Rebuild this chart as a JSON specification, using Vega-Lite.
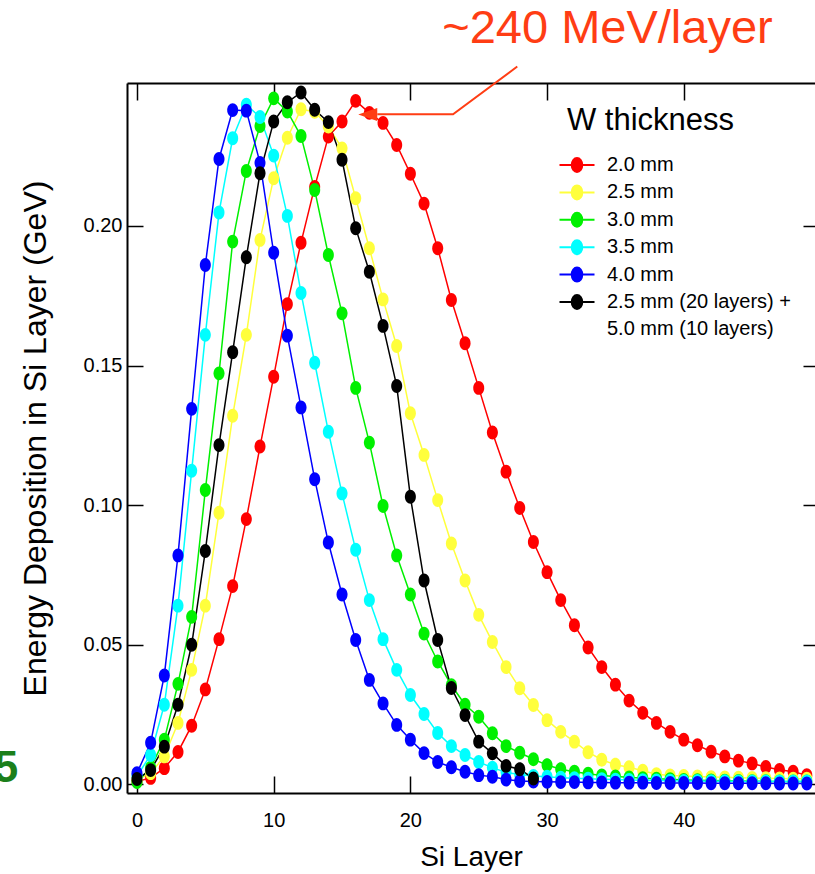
{
"$schema": "https://vega.github.io/schema/vega-lite/v6.json",
"autosize": {"type": "none"},
"padding": {"left": 127, "top": 83, "right": 0, "bottom": 81},
"width": 688,
"height": 710,
"background": "white",
"config": {"font": "Liberation Sans", "view": {"stroke": null}},
"datasets": {
"curves": [
{"s":"2.0 mm","x":0,"y":0.0010},{"s":"2.0 mm","x":1,"y":0.0023},{"s":"2.0 mm","x":2,"y":0.0058},{"s":"2.0 mm","x":3,"y":0.0116},{"s":"2.0 mm","x":4,"y":0.0210},{"s":"2.0 mm","x":5,"y":0.0340},{"s":"2.0 mm","x":6,"y":0.0520},{"s":"2.0 mm","x":7,"y":0.0710},{"s":"2.0 mm","x":8,"y":0.0950},{"s":"2.0 mm","x":9,"y":0.1210},
{"s":"2.0 mm","x":10,"y":0.1460},{"s":"2.0 mm","x":11,"y":0.1720},{"s":"2.0 mm","x":12,"y":0.1940},{"s":"2.0 mm","x":13,"y":0.2140},{"s":"2.0 mm","x":14,"y":0.2320},{"s":"2.0 mm","x":15,"y":0.2374},{"s":"2.0 mm","x":16,"y":0.2448},{"s":"2.0 mm","x":17,"y":0.2405},{"s":"2.0 mm","x":18,"y":0.2369},{"s":"2.0 mm","x":19,"y":0.2290},
{"s":"2.0 mm","x":20,"y":0.2187},{"s":"2.0 mm","x":21,"y":0.2080},{"s":"2.0 mm","x":22,"y":0.1920},{"s":"2.0 mm","x":23,"y":0.1735},{"s":"2.0 mm","x":24,"y":0.1580},{"s":"2.0 mm","x":25,"y":0.1420},{"s":"2.0 mm","x":26,"y":0.1260},{"s":"2.0 mm","x":27,"y":0.1120},{"s":"2.0 mm","x":28,"y":0.0990},{"s":"2.0 mm","x":29,"y":0.0868},
{"s":"2.0 mm","x":30,"y":0.0760},{"s":"2.0 mm","x":31,"y":0.0660},{"s":"2.0 mm","x":32,"y":0.0570},{"s":"2.0 mm","x":33,"y":0.0490},{"s":"2.0 mm","x":34,"y":0.0420},{"s":"2.0 mm","x":35,"y":0.0357},{"s":"2.0 mm","x":36,"y":0.0300},{"s":"2.0 mm","x":37,"y":0.0256},{"s":"2.0 mm","x":38,"y":0.0220},{"s":"2.0 mm","x":39,"y":0.0188},
{"s":"2.0 mm","x":40,"y":0.0160},{"s":"2.0 mm","x":41,"y":0.0140},{"s":"2.0 mm","x":42,"y":0.0117},{"s":"2.0 mm","x":43,"y":0.0100},{"s":"2.0 mm","x":44,"y":0.0085},{"s":"2.0 mm","x":45,"y":0.0075},{"s":"2.0 mm","x":46,"y":0.0062},{"s":"2.0 mm","x":47,"y":0.0052},{"s":"2.0 mm","x":48,"y":0.0045},{"s":"2.0 mm","x":49,"y":0.0033},
{"s":"2.5 mm","x":0,"y":0.0015},{"s":"2.5 mm","x":1,"y":0.0040},{"s":"2.5 mm","x":2,"y":0.0100},{"s":"2.5 mm","x":3,"y":0.0220},{"s":"2.5 mm","x":4,"y":0.0410},{"s":"2.5 mm","x":5,"y":0.0640},{"s":"2.5 mm","x":6,"y":0.0973},{"s":"2.5 mm","x":7,"y":0.1320},{"s":"2.5 mm","x":8,"y":0.1610},{"s":"2.5 mm","x":9,"y":0.1950},
{"s":"2.5 mm","x":10,"y":0.2171},{"s":"2.5 mm","x":11,"y":0.2316},{"s":"2.5 mm","x":12,"y":0.2418},{"s":"2.5 mm","x":13,"y":0.2409},{"s":"2.5 mm","x":14,"y":0.2356},{"s":"2.5 mm","x":15,"y":0.2278},{"s":"2.5 mm","x":16,"y":0.2099},{"s":"2.5 mm","x":17,"y":0.1920},{"s":"2.5 mm","x":18,"y":0.1737},{"s":"2.5 mm","x":19,"y":0.1570},
{"s":"2.5 mm","x":20,"y":0.1329},{"s":"2.5 mm","x":21,"y":0.1180},{"s":"2.5 mm","x":22,"y":0.1018},{"s":"2.5 mm","x":23,"y":0.0863},{"s":"2.5 mm","x":24,"y":0.0730},{"s":"2.5 mm","x":25,"y":0.0607},{"s":"2.5 mm","x":26,"y":0.0510},{"s":"2.5 mm","x":27,"y":0.0420},{"s":"2.5 mm","x":28,"y":0.0344},{"s":"2.5 mm","x":29,"y":0.0284},
{"s":"2.5 mm","x":30,"y":0.0230},{"s":"2.5 mm","x":31,"y":0.0188},{"s":"2.5 mm","x":32,"y":0.0153},{"s":"2.5 mm","x":33,"y":0.0115},{"s":"2.5 mm","x":34,"y":0.0088},{"s":"2.5 mm","x":35,"y":0.0070},{"s":"2.5 mm","x":36,"y":0.0061},{"s":"2.5 mm","x":37,"y":0.0049},{"s":"2.5 mm","x":38,"y":0.0036},{"s":"2.5 mm","x":39,"y":0.0032},
{"s":"2.5 mm","x":40,"y":0.0030},{"s":"2.5 mm","x":41,"y":0.0028},{"s":"2.5 mm","x":42,"y":0.0026},{"s":"2.5 mm","x":43,"y":0.0025},{"s":"2.5 mm","x":44,"y":0.0024},{"s":"2.5 mm","x":45,"y":0.0023},{"s":"2.5 mm","x":46,"y":0.0022},{"s":"2.5 mm","x":47,"y":0.0021},{"s":"2.5 mm","x":48,"y":0.0020},{"s":"2.5 mm","x":49,"y":0.0020},
{"s":"3.0 mm","x":0,"y":0.0008},{"s":"3.0 mm","x":1,"y":0.0060},{"s":"3.0 mm","x":2,"y":0.0160},{"s":"3.0 mm","x":3,"y":0.0360},{"s":"3.0 mm","x":4,"y":0.0600},{"s":"3.0 mm","x":5,"y":0.1054},{"s":"3.0 mm","x":6,"y":0.1472},{"s":"3.0 mm","x":7,"y":0.1944},{"s":"3.0 mm","x":8,"y":0.2197},{"s":"3.0 mm","x":9,"y":0.2358},
{"s":"3.0 mm","x":10,"y":0.2457},{"s":"3.0 mm","x":11,"y":0.2410},{"s":"3.0 mm","x":12,"y":0.2322},{"s":"3.0 mm","x":13,"y":0.2129},{"s":"3.0 mm","x":14,"y":0.1896},{"s":"3.0 mm","x":15,"y":0.1687},{"s":"3.0 mm","x":16,"y":0.1420},{"s":"3.0 mm","x":17,"y":0.1224},{"s":"3.0 mm","x":18,"y":0.0997},{"s":"3.0 mm","x":19,"y":0.0820},
{"s":"3.0 mm","x":20,"y":0.0680},{"s":"3.0 mm","x":21,"y":0.0540},{"s":"3.0 mm","x":22,"y":0.0440},{"s":"3.0 mm","x":23,"y":0.0355},{"s":"3.0 mm","x":24,"y":0.0285},{"s":"3.0 mm","x":25,"y":0.0242},{"s":"3.0 mm","x":26,"y":0.0183},{"s":"3.0 mm","x":27,"y":0.0137},{"s":"3.0 mm","x":28,"y":0.0113},{"s":"3.0 mm","x":29,"y":0.0090},
{"s":"3.0 mm","x":30,"y":0.0069},{"s":"3.0 mm","x":31,"y":0.0054},{"s":"3.0 mm","x":32,"y":0.0045},{"s":"3.0 mm","x":33,"y":0.0038},{"s":"3.0 mm","x":34,"y":0.0032},{"s":"3.0 mm","x":35,"y":0.0028},{"s":"3.0 mm","x":36,"y":0.0025},{"s":"3.0 mm","x":37,"y":0.0022},{"s":"3.0 mm","x":38,"y":0.0020},{"s":"3.0 mm","x":39,"y":0.0018},
{"s":"3.0 mm","x":40,"y":0.0016},{"s":"3.0 mm","x":41,"y":0.0015},{"s":"3.0 mm","x":42,"y":0.0014},{"s":"3.0 mm","x":43,"y":0.0013},{"s":"3.0 mm","x":44,"y":0.0012},{"s":"3.0 mm","x":45,"y":0.0011},{"s":"3.0 mm","x":46,"y":0.0011},{"s":"3.0 mm","x":47,"y":0.0010},{"s":"3.0 mm","x":48,"y":0.0010},{"s":"3.0 mm","x":49,"y":0.0010},
{"s":"3.5 mm","x":0,"y":0.0030},{"s":"3.5 mm","x":1,"y":0.0105},{"s":"3.5 mm","x":2,"y":0.0285},{"s":"3.5 mm","x":3,"y":0.0640},{"s":"3.5 mm","x":4,"y":0.1123},{"s":"3.5 mm","x":5,"y":0.1610},{"s":"3.5 mm","x":6,"y":0.2048},{"s":"3.5 mm","x":7,"y":0.2314},{"s":"3.5 mm","x":8,"y":0.2434},{"s":"3.5 mm","x":9,"y":0.2390},
{"s":"3.5 mm","x":10,"y":0.2252},{"s":"3.5 mm","x":11,"y":0.2036},{"s":"3.5 mm","x":12,"y":0.1760},{"s":"3.5 mm","x":13,"y":0.1510},{"s":"3.5 mm","x":14,"y":0.1263},{"s":"3.5 mm","x":15,"y":0.1042},{"s":"3.5 mm","x":16,"y":0.0840},{"s":"3.5 mm","x":17,"y":0.0660},{"s":"3.5 mm","x":18,"y":0.0520},{"s":"3.5 mm","x":19,"y":0.0410},
{"s":"3.5 mm","x":20,"y":0.0320},{"s":"3.5 mm","x":21,"y":0.0252},{"s":"3.5 mm","x":22,"y":0.0184},{"s":"3.5 mm","x":23,"y":0.0137},{"s":"3.5 mm","x":24,"y":0.0105},{"s":"3.5 mm","x":25,"y":0.0080},{"s":"3.5 mm","x":26,"y":0.0060},{"s":"3.5 mm","x":27,"y":0.0043},{"s":"3.5 mm","x":28,"y":0.0035},{"s":"3.5 mm","x":29,"y":0.0030},
{"s":"3.5 mm","x":30,"y":0.0027},{"s":"3.5 mm","x":31,"y":0.0024},{"s":"3.5 mm","x":32,"y":0.0022},{"s":"3.5 mm","x":33,"y":0.0020},{"s":"3.5 mm","x":34,"y":0.0018},{"s":"3.5 mm","x":35,"y":0.0017},{"s":"3.5 mm","x":36,"y":0.0016},{"s":"3.5 mm","x":37,"y":0.0015},{"s":"3.5 mm","x":38,"y":0.0014},{"s":"3.5 mm","x":39,"y":0.0013},
{"s":"3.5 mm","x":40,"y":0.0012},{"s":"3.5 mm","x":41,"y":0.0012},{"s":"3.5 mm","x":42,"y":0.0011},{"s":"3.5 mm","x":43,"y":0.0011},{"s":"3.5 mm","x":44,"y":0.0010},{"s":"3.5 mm","x":45,"y":0.0010},{"s":"3.5 mm","x":46,"y":0.0010},{"s":"3.5 mm","x":47,"y":0.0010},{"s":"3.5 mm","x":48,"y":0.0010},{"s":"3.5 mm","x":49,"y":0.0010},
{"s":"4.0 mm","x":0,"y":0.0040},{"s":"4.0 mm","x":1,"y":0.0149},{"s":"4.0 mm","x":2,"y":0.0390},{"s":"4.0 mm","x":3,"y":0.0820},{"s":"4.0 mm","x":4,"y":0.1345},{"s":"4.0 mm","x":5,"y":0.1860},{"s":"4.0 mm","x":6,"y":0.2240},{"s":"4.0 mm","x":7,"y":0.2415},{"s":"4.0 mm","x":8,"y":0.2413},{"s":"4.0 mm","x":9,"y":0.2226},
{"s":"4.0 mm","x":10,"y":0.1904},{"s":"4.0 mm","x":11,"y":0.1607},{"s":"4.0 mm","x":12,"y":0.1350},{"s":"4.0 mm","x":13,"y":0.1093},{"s":"4.0 mm","x":14,"y":0.0866},{"s":"4.0 mm","x":15,"y":0.0680},{"s":"4.0 mm","x":16,"y":0.0517},{"s":"4.0 mm","x":17,"y":0.0374},{"s":"4.0 mm","x":18,"y":0.0290},{"s":"4.0 mm","x":19,"y":0.0213},
{"s":"4.0 mm","x":20,"y":0.0160},{"s":"4.0 mm","x":21,"y":0.0112},{"s":"4.0 mm","x":22,"y":0.0080},{"s":"4.0 mm","x":23,"y":0.0061},{"s":"4.0 mm","x":24,"y":0.0045},{"s":"4.0 mm","x":25,"y":0.0033},{"s":"4.0 mm","x":26,"y":0.0027},{"s":"4.0 mm","x":27,"y":0.0017},{"s":"4.0 mm","x":28,"y":0.0012},{"s":"4.0 mm","x":29,"y":0.0010},
{"s":"4.0 mm","x":30,"y":0.0009},{"s":"4.0 mm","x":31,"y":0.0008},{"s":"4.0 mm","x":32,"y":0.0008},{"s":"4.0 mm","x":33,"y":0.0007},{"s":"4.0 mm","x":34,"y":0.0007},{"s":"4.0 mm","x":35,"y":0.0006},{"s":"4.0 mm","x":36,"y":0.0006},{"s":"4.0 mm","x":37,"y":0.0006},{"s":"4.0 mm","x":38,"y":0.0005},{"s":"4.0 mm","x":39,"y":0.0005},
{"s":"4.0 mm","x":40,"y":0.0005},{"s":"4.0 mm","x":41,"y":0.0005},{"s":"4.0 mm","x":42,"y":0.0004},{"s":"4.0 mm","x":43,"y":0.0004},{"s":"4.0 mm","x":44,"y":0.0004},{"s":"4.0 mm","x":45,"y":0.0004},{"s":"4.0 mm","x":46,"y":0.0004},{"s":"4.0 mm","x":47,"y":0.0003},{"s":"4.0 mm","x":48,"y":0.0003},{"s":"4.0 mm","x":49,"y":0.0003},
{"s":"2.5 mm (20 layers) +","x":0,"y":0.0019},{"s":"2.5 mm (20 layers) +","x":1,"y":0.0051},{"s":"2.5 mm (20 layers) +","x":2,"y":0.0135},{"s":"2.5 mm (20 layers) +","x":3,"y":0.0285},{"s":"2.5 mm (20 layers) +","x":4,"y":0.0500},{"s":"2.5 mm (20 layers) +","x":5,"y":0.0836},{"s":"2.5 mm (20 layers) +","x":6,"y":0.1215},{"s":"2.5 mm (20 layers) +","x":7,"y":0.1548},{"s":"2.5 mm (20 layers) +","x":8,"y":0.1888},{"s":"2.5 mm (20 layers) +","x":9,"y":0.2189},
{"s":"2.5 mm (20 layers) +","x":10,"y":0.2374},{"s":"2.5 mm (20 layers) +","x":11,"y":0.2443},{"s":"2.5 mm (20 layers) +","x":12,"y":0.2478},{"s":"2.5 mm (20 layers) +","x":13,"y":0.2416},{"s":"2.5 mm (20 layers) +","x":14,"y":0.2372},{"s":"2.5 mm (20 layers) +","x":15,"y":0.2237},{"s":"2.5 mm (20 layers) +","x":16,"y":0.1992},{"s":"2.5 mm (20 layers) +","x":17,"y":0.1836},{"s":"2.5 mm (20 layers) +","x":18,"y":0.1642},{"s":"2.5 mm (20 layers) +","x":19,"y":0.1427},
{"s":"2.5 mm (20 layers) +","x":20,"y":0.1030},{"s":"2.5 mm (20 layers) +","x":21,"y":0.0730},{"s":"2.5 mm (20 layers) +","x":22,"y":0.0517},{"s":"2.5 mm (20 layers) +","x":23,"y":0.0345},{"s":"2.5 mm (20 layers) +","x":24,"y":0.0248},{"s":"2.5 mm (20 layers) +","x":25,"y":0.0153},{"s":"2.5 mm (20 layers) +","x":26,"y":0.0111},{"s":"2.5 mm (20 layers) +","x":27,"y":0.0066},{"s":"2.5 mm (20 layers) +","x":28,"y":0.0054},{"s":"2.5 mm (20 layers) +","x":29,"y":0.0021}
],
"note": [{"x": 22.33, "y": 0.2655, "t": "~240 MeV/layer"}],
"arrow": [{"x": 27.82, "y": 0.2571}, {"x": 23.12, "y": 0.2400}, {"x": 17.58, "y": 0.2400}],
"head": [{"x": 16.88, "y": 0.2399}],
"side": [{"x": -8.68, "y": 0.0008, "t": "5"}]
},
"layer": [
{
"data": {"name": "curves"},
"mark": {"type": "line", "strokeWidth": 1.5},
"encoding": {
"x": {"field": "x", "type": "quantitative", "scale": {"domain": [-0.73, 49.6], "nice": false, "zero": false},
"axis": {"orient": "bottom", "values": [0, 10, 20, 30, 40], "grid": false, "tickSize": -17, "tickWidth": 1.5, "tickColor": "black", "domainColor": "black", "domainWidth": 2, "labelPadding": 34, "labelFontSize": 20, "labelColor": "black", "labelFlush": false, "title": "Si Layer", "titleFontSize": 28, "titleFontWeight": "normal", "titleColor": "black", "titlePadding": 13}},
"y": {"field": "y", "type": "quantitative", "scale": {"domain": [-0.0031, 0.2512], "nice": false, "zero": false},
"axis": {"orient": "left", "values": [0, 0.05, 0.1, 0.15, 0.2], "format": ".2f", "grid": false, "tickSize": -16, "tickWidth": 1.5, "tickColor": "black", "domainColor": "black", "domainWidth": 2, "labelPadding": 21, "labelFontSize": 20, "labelColor": "black", "labelFlush": false, "title": "Energy Deposition in Si Layer (GeV)", "titleFontSize": 32, "titleFontWeight": "normal", "titleColor": "black", "titlePadding": 31}},
"color": {"field": "s", "type": "nominal",
"scale": {"domain": ["2.0 mm", "2.5 mm", "3.0 mm", "3.5 mm", "4.0 mm", "2.5 mm (20 layers) +", "\u00a05.0 mm (10 layers)"], "range": ["#FF0000", "#FFFF3C", "#00F000", "#00FFFF", "#0000FF", "#000000", "transparent"]},
"legend": {"orient": "none", "legendX": 440, "legendY": 23, "title": "W thickness", "titleFontSize": 31, "titleFontWeight": "normal", "titleColor": "black", "titlePadding": 18, "labelFontSize": 20, "labelColor": "black", "labelOffset": 20, "labelLimit": 300, "symbolType": "M-2.5,0H2.5M0,-1A0.75,1 0 1,0 0,1A0.75,1 0 1,0 0,-1Z", "symbolSize": 196, "symbolStrokeWidth": 2, "rowPadding": 5.4, "padding": 0,
"encode": {"symbols": {"update": {"fill": {"scale": "color", "field": "value"}, "stroke": {"scale": "color", "field": "value"}, "opacity": {"value": 1}}}}}}
}
},
{
"data": {"name": "curves"},
"mark": {"type": "point", "filled": true, "opacity": 1, "size": 134, "shape": "M0,-1.2A0.95,1.2 0 1,0 0,1.2A0.95,1.2 0 1,0 0,-1.2Z"},
"encoding": {
"x": {"field": "x", "type": "quantitative", "scale": {"domain": [-0.73, 49.6], "nice": false, "zero": false},
"axis": {"orient": "top", "values": [0, 10, 20, 30, 40], "grid": false, "labels": false, "tickSize": -17, "tickWidth": 1.5, "tickColor": "black", "domainColor": "black", "domainWidth": 2, "title": null}},
"y": {"field": "y", "type": "quantitative", "scale": {"domain": [-0.0031, 0.2512], "nice": false, "zero": false},
"axis": {"orient": "right", "values": [0, 0.05, 0.1, 0.15, 0.2], "grid": false, "labels": false, "domain": false, "tickSize": -12, "tickWidth": 1.5, "tickColor": "black", "title": null}},
"color": {"field": "s", "type": "nominal",
"scale": {"domain": ["2.0 mm", "2.5 mm", "3.0 mm", "3.5 mm", "4.0 mm", "2.5 mm (20 layers) +", "\u00a05.0 mm (10 layers)"], "range": ["#FF0000", "#FFFF3C", "#00F000", "#00FFFF", "#0000FF", "#000000", "transparent"]},
"legend": {"orient": "none", "legendX": 440, "legendY": 23, "title": "W thickness", "titleFontSize": 31, "titleFontWeight": "normal", "titleColor": "black", "titlePadding": 18, "labelFontSize": 20, "labelColor": "black", "labelOffset": 20, "labelLimit": 300, "symbolType": "M-2.5,0H2.5M0,-1A0.75,1 0 1,0 0,1A0.75,1 0 1,0 0,-1Z", "symbolSize": 196, "symbolStrokeWidth": 2, "rowPadding": 5.4, "padding": 0,
"encode": {"symbols": {"update": {"fill": {"scale": "color", "field": "value"}, "stroke": {"scale": "color", "field": "value"}, "opacity": {"value": 1}}}}}}
}
},
{
"data": {"name": "arrow"},
"mark": {"type": "line", "color": "#FF3D14", "strokeWidth": 2},
"encoding": {
"x": {"field": "x", "type": "quantitative", "axis": null},
"y": {"field": "y", "type": "quantitative", "axis": null}
}
},
{
"data": {"name": "head"},
"mark": {"type": "point", "filled": true, "opacity": 1, "color": "#FF3D14", "size": 361, "shape": "M-1,0L1,-0.68L1,0.68Z"},
"encoding": {
"x": {"field": "x", "type": "quantitative", "axis": null},
"y": {"field": "y", "type": "quantitative", "axis": null}
}
},
{
"data": {"name": "note"},
"mark": {"type": "text", "align": "left", "baseline": "alphabetic", "fontSize": 47, "color": "#FF3D14"},
"encoding": {
"x": {"field": "x", "type": "quantitative", "axis": null},
"y": {"field": "y", "type": "quantitative", "axis": null},
"text": {"field": "t"}
}
},
{
"data": {"name": "side"},
"mark": {"type": "text", "align": "right", "baseline": "alphabetic", "fontSize": 44, "fontWeight": "bold", "color": "#1B7F1B"},
"encoding": {
"x": {"field": "x", "type": "quantitative", "axis": null},
"y": {"field": "y", "type": "quantitative", "axis": null},
"text": {"field": "t"}
}
}
],
"resolve": {"axis": {"x": "independent", "y": "independent"}}
}
